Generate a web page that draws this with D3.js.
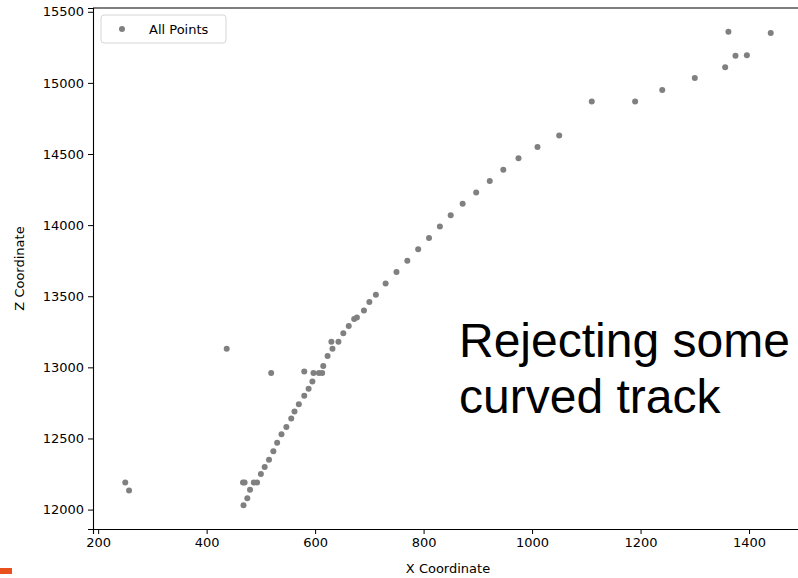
<!DOCTYPE html>
<html>
<head>
<meta charset="utf-8">
<script src="https://cdn.jsdelivr.net/npm/d3@7.9.0/dist/d3.min.js"></script>
<style>
  html, body { margin: 0; padding: 0; background: #fff; }
  svg { display: block; }
  text { font-family: 'DejaVu Sans', sans-serif; fill: #000; }
</style>
</head>
<body>
<svg id="chart" width="798" height="578"></svg>
<script>
// point positions
const xCoords = [250, 257, 437, 519, 580,
  468, 475, 480, 467, 470, 487, 493, 500, 507, 515,
  523, 530, 538, 547, 556, 562, 570, 580, 588, 595,
  597, 607, 613, 615, 623, 632, 630, 643, 652, 662,
  672, 677, 690, 700, 712, 730, 750, 770, 790, 810,
  830, 850, 872, 897, 922, 947, 975, 1010, 1050, 1110,
  1190, 1240, 1300, 1356, 1375, 1396, 1362, 1440];
const zCoords = [12190, 12135, 13130, 12960, 12970,
  12030, 12080, 12140, 12190, 12190, 12190, 12190, 12250, 12300, 12350,
  12410, 12470, 12530, 12580, 12640, 12690, 12740, 12800, 12850, 12900,
  12960, 12960, 12960, 13010, 13080, 13130, 13180, 13180, 13240, 13290,
  13340, 13350, 13400, 13460, 13510, 13590, 13670, 13750, 13830, 13910,
  13990, 14070, 14150, 14230, 14310, 14390, 14470, 14550, 14630, 14870,
  14870, 14950, 15035, 15110, 15190, 15195, 15360, 15350];

const xTicks = [200, 400, 600, 800, 1000, 1200, 1400];
const zTicks = [12000, 12500, 13000, 13500, 14000, 14500, 15000, 15500];
const legendLabels = ['All Points'];
const noteLines = ['Rejecting some', 'curved track'];

const svg = d3.select('#chart');
const plotLeft = 93, plotTop = 8, plotRight = 803, plotBottom = 529;

// matplotlib style 5% margins
function padded(values) {
  let [lo, hi] = d3.extent(values);
  let pad = (hi - lo) * 0.05;
  return [lo - pad, hi + pad];
}

let x = d3.scaleLinear().domain(padded(xCoords)).range([plotLeft, plotRight]);
let z = d3.scaleLinear().domain(padded(zCoords)).range([plotBottom, plotTop]);

let points = xCoords.map((v, i) => ({ x: v, z: zCoords[i] }));

svg.append('g')
  .selectAll('circle')
  .data(points)
  .join('circle')
  .attr('cx', (d) => x(d.x))
  .attr('cy', (d) => z(d.z))
  .attr('r', 3)
  .attr('fill', '#808080');

// axes
let xAxis = svg.append('g')
  .attr('transform', `translate(0,${plotBottom})`)
  .call(d3.axisBottom(x).tickValues(xTicks).tickSize(5).tickPadding(4).tickFormat(d3.format('d')));
let zAxis = svg.append('g')
  .attr('transform', `translate(${plotLeft},0)`)
  .call(d3.axisLeft(z).tickValues(zTicks).tickSize(5).tickPadding(4).tickFormat(d3.format('d')));

[xAxis, zAxis].forEach((g) => {
  g.selectAll('text').style('font-size', '13px').attr('fill', '#000');
  g.selectAll('line').attr('stroke', '#000').attr('stroke-width', 1);
  g.select('.domain').attr('stroke', '#000').attr('stroke-width', 1.1);
});

// top spine
svg.append('line')
  .attr('x1', plotLeft).attr('x2', plotRight)
  .attr('y1', plotTop).attr('y2', plotTop)
  .attr('stroke', '#000').attr('stroke-width', 1.1);

svg.append('text')
  .attr('x', (plotLeft + plotRight) / 2)
  .attr('y', 573)
  .attr('text-anchor', 'middle')
  .style('font-size', '13px')
  .text('X Coordinate');

svg.append('text')
  .attr('transform', `translate(24,${(plotTop + plotBottom) / 2}) rotate(-90)`)
  .attr('text-anchor', 'middle')
  .style('font-size', '13px')
  .text('Z Coordinate');

// legend
let legend = svg.append('g').attr('transform', 'translate(101,15)');
legend.append('rect')
  .attr('width', 125).attr('height', 28)
  .attr('rx', 3)
  .attr('fill', '#fff').attr('fill-opacity', 0.8)
  .attr('stroke', '#d5d5d5');
legendLabels.forEach((label, i) => {
  legend.append('circle')
    .attr('cx', 21).attr('cy', 14 + i * 20)
    .attr('r', 3).attr('fill', '#808080');
  legend.append('text')
    .attr('x', 48).attr('y', 18.5 + i * 20)
    .style('font-size', '13px')
    .text(label);
});

// slide annotation
svg.append('g')
  .selectAll('text')
  .data(noteLines)
  .join('text')
  .attr('x', 459)
  .attr('y', (d, i) => 357 + i * 56)
  .style('font-family', "'Liberation Sans', Arial, sans-serif")
  .style('font-size', '48px')
  .text((d) => d);

// orange slide marker bottom-left
svg.append('rect')
  .attr('x', 0).attr('y', 568)
  .attr('width', 12).attr('height', 6)
  .attr('fill', '#e8501e');
</script>
</body>
</html>
